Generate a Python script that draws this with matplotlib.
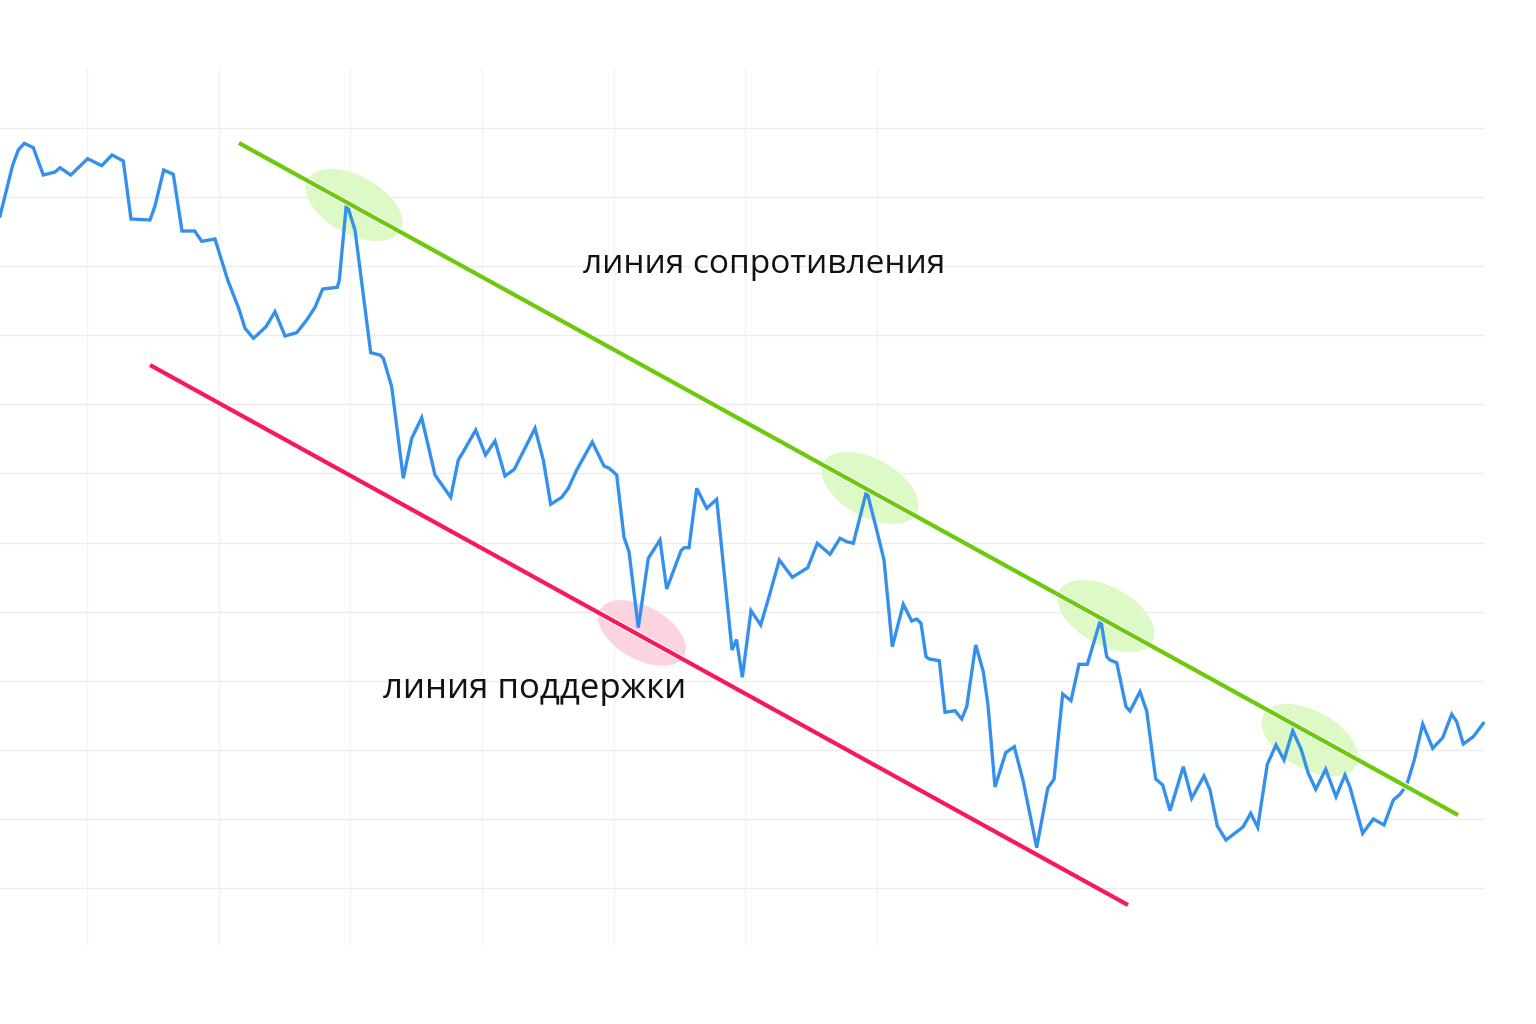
import matplotlib
matplotlib.use("Agg")
import matplotlib.pyplot as plt
from matplotlib.patches import Ellipse
import matplotlib.patheffects as pe
import numpy as np

# ---- data (days, price) ----
days = [
    0.0, 1.27, 1.83, 2.43, 3.33, 4.33, 5.5, 6.0, 7.07, 8.77,
    10.17, 11.2, 12.33, 13.1, 15.0, 15.5, 16.37, 17.33, 18.2, 19.47,
    20.17, 21.5, 22.77, 23.93, 24.5, 25.35, 26.6, 27.5, 28.5, 29.67,
    30.67, 31.5, 32.27, 33.73, 33.93, 34.65, 35.5, 37.07, 38.0, 38.33,
    39.17, 40.33, 41.17, 42.17, 43.5, 45.07, 45.83, 46.33, 47.57, 48.55,
    49.5, 50.5, 51.43, 53.5, 54.33, 55.07, 56.17, 56.83, 57.67, 59.23,
    60.4, 60.93, 61.67, 62.4, 62.9, 63.83, 64.83, 66.0, 66.67, 68.1,
    68.4, 68.9, 69.67, 70.67, 71.67, 73.2, 73.65, 74.23, 75.1, 76.07,
    77.0, 77.93, 79.23, 80.77, 81.73, 83.0, 84.0, 84.67, 85.33, 86.67,
    87.67, 88.4, 89.23, 90.33, 91.17, 91.67, 92.1, 92.6, 92.93, 93.93,
    94.5, 95.5, 96.17, 96.67, 97.57, 98.33, 98.8, 99.5, 100.57, 101.43,
    102.33, 103.67, 104.77, 105.4, 106.27, 107.1, 107.9, 108.73, 110.07, 110.67,
    111.0, 111.67, 112.6, 113.0, 114.0, 114.67, 115.57, 116.27, 117.0, 118.33,
    119.17, 120.4, 121.0, 121.73, 122.6, 124.3, 125.07, 125.77, 126.73, 127.6,
    128.4, 129.27, 130.1, 130.83, 131.57, 132.57, 133.6, 134.5, 135.0, 136.27,
    137.33, 138.4, 139.33, 140.0, 140.67, 141.43, 142.27, 143.27, 144.27, 145.17,
    145.67, 146.33, 147.33, 148.33,
]
prices = [
    78.4, 83.5, 85.0, 85.67, 85.23, 82.5, 82.8, 83.23, 82.5, 84.13,
    83.43, 84.5, 83.9, 78.1, 78.0, 79.4, 83.0, 82.57, 76.9, 76.9,
    75.87, 76.1, 72.0, 69.0, 67.17, 66.17, 67.33, 68.83, 66.4, 66.73,
    68.0, 69.27, 71.1, 71.27, 72.0, 79.7, 77.0, 64.73, 64.5, 64.17,
    61.33, 52.17, 56.17, 58.23, 52.5, 50.27, 54.0, 54.83, 57.0, 54.5,
    55.9, 52.4, 53.07, 57.17, 54.0, 49.57, 50.27, 51.17, 53.0, 55.8,
    53.4, 53.17, 52.5, 46.27, 44.83, 37.23, 44.17, 46.0, 41.1, 44.93,
    45.23, 45.23, 51.17, 49.17, 50.07, 35.0, 36.05, 32.27, 38.93, 37.5,
    40.67, 44.0, 42.27, 43.23, 45.67, 44.57, 46.17, 45.83, 45.67, 50.93,
    47.0, 44.0, 35.33, 39.57, 37.9, 38.1, 37.67, 34.33, 34.1, 33.93,
    28.77, 28.93, 28.1, 29.33, 35.5, 32.83, 29.5, 21.3, 24.73, 25.33,
    21.83, 15.23, 21.17, 22.07, 30.6, 29.93, 33.57, 33.57, 38.07, 34.33,
    34.0, 33.73, 29.33, 28.9, 30.83, 28.9, 22.1, 21.5, 18.93, 23.33,
    20.17, 22.4, 21.0, 17.4, 16.0, 17.3, 18.67, 17.27, 23.57, 25.5,
    24.0, 26.93, 25.1, 22.67, 21.07, 23.07, 20.33, 22.5, 21.27, 16.67,
    18.1, 17.5, 20.0, 20.57, 21.5, 24.0, 27.6, 25.17, 26.23, 28.57,
    27.83, 25.6, 26.33, 27.67,
]

# trend lines: (start day, start price), (end day, end price)
resistance_days = [23.9, 145.8]
resistance_prices = [85.7, 18.5]
support_days = [15.0, 112.8]
support_prices = [63.5, 9.5]

# touch points highlighted by ellipses
resistance_touch_days = [35.4, 87.0, 110.6, 131.0]
resistance_touch_prices = [79.5, 51.2, 38.4, 26.0]
support_touch_days = [64.2]
support_touch_prices = [36.7]

label_resistance = "линия сопротивления"
label_support = "линия поддержки"

# ---- figure ----
fig = plt.figure(figsize=(15.36, 10.24), dpi=100)
ax = fig.add_axes([0, 1 - 945 / 1024, 1485 / 1536, 877 / 1024])
ax.set_xlim(0, 148.5)
ax.set_ylim(5.5, 93.2)
for s in ax.spines.values():
    s.set_visible(False)
ax.set_xticks(np.linspace(8.7, 87.7, 7))
ax.set_yticks(np.linspace(11.2, 87.2, 12))
ax.tick_params(length=0, labelbottom=False, labelleft=False)
ax.xaxis.grid(True, color="#f3f3f3", linewidth=1.0)
ax.yaxis.grid(True, color="#ececec", linewidth=1.0)
ax.set_axisbelow(True)

green = "#6cc90c"
red = "#f8195a"
blue = "#3590ec"

for d, p in zip(resistance_touch_days, resistance_touch_prices):
    ax.add_patch(Ellipse((d, p), 10.6, 5.8, angle=-29, facecolor="#dcf9c6",
                         edgecolor="none", zorder=1))
for d, p in zip(support_touch_days, support_touch_prices):
    ax.add_patch(Ellipse((d, p), 9.6, 5.3, angle=-29, facecolor="#fcd4df",
                         edgecolor="none", zorder=1))

ax.plot(days, prices, color=blue, linewidth=2.4, solid_joinstyle="miter",
        zorder=3)

halo = [pe.Stroke(linewidth=4.6, foreground="white"), pe.Normal()]
ax.plot(resistance_days, resistance_prices, color=green, linewidth=3.0,
        solid_capstyle="butt", zorder=4, path_effects=halo)
ax.plot(support_days, support_prices, color=red, linewidth=3.0,
        solid_capstyle="butt", zorder=4, path_effects=halo)

ax.text(58.3, 72.7, label_resistance, fontsize=24, family="Open Sans",
        color="#111111", ha="left", va="baseline", zorder=5)
ax.text(38.3, 30.2, label_support, fontsize=25, family="Open Sans",
        color="#111111", ha="left", va="baseline", zorder=5)

fig.savefig("out.png", dpi=100, facecolor="white")
